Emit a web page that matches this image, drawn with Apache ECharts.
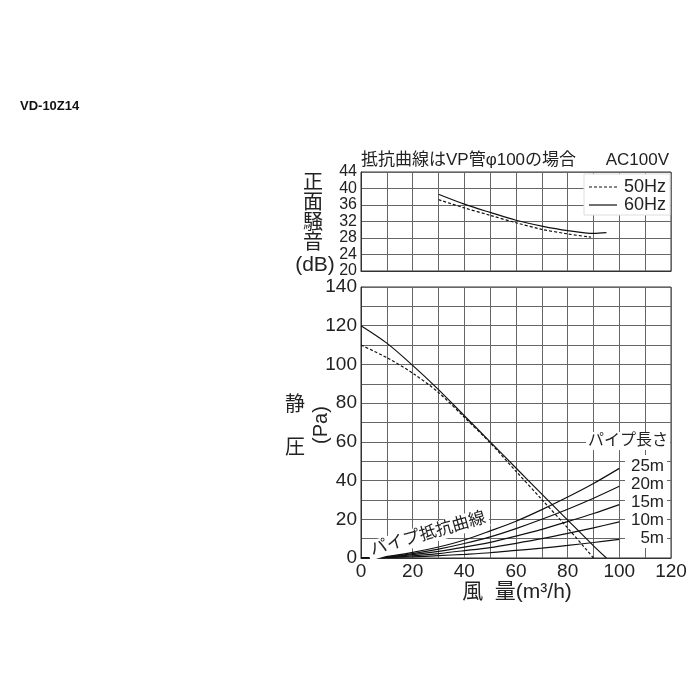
<!DOCTYPE html>
<html><head><meta charset="utf-8">
<script src="https://cdn.jsdelivr.net/npm/echarts@6/dist/echarts.min.js"></script>
<style>html,body{margin:0;padding:0;background:#fff}#c{width:700px;height:700px}</style>
</head><body><div id="c"></div>
<script>
// ---- data ----
const noiseX50 = [30, 40, 50, 60, 70, 80, 89];
const noise50  = [37.3, 35.3, 33.5, 31.7, 30.1, 29.0, 28.2];
const noiseX60 = [30, 40, 50, 60, 70, 80, 90, 95];
const noise60  = [38.6, 36.2, 34.2, 32.3, 30.9, 29.8, 29.1, 29.3];

const pqX50 = [0, 10, 20, 30, 40, 50, 60, 70, 80, 90];
const pq50  = [110, 103.5, 95.5, 85.5, 72.7, 59.5, 44.8, 30.2, 15.5, 0];
const pqX60 = [0, 10, 20, 30, 40, 50, 60, 70, 80, 90, 95];
const pq60  = [120, 111, 99.5, 87, 73.5, 60, 46.5, 33, 19.6, 6.3, 0];

const pipeX = [0, 10, 20, 30, 40, 50, 60, 70, 80, 90, 100];
const pipe25 = [0, 0.8, 2.9, 5.7, 9.3, 14, 19, 25, 31.5, 38.5, 46.3];
const pipe20 = [0, 0.6, 2.3, 4.6, 7.5, 10.9, 15.2, 20, 25.2, 30.9, 37.1];
const pipe15 = [0, 0.5, 1.7, 3.4, 5.6, 8.1, 11.3, 14.8, 18.8, 23, 27.6];
const pipe10 = [0, 0.3, 1.1, 2.3, 3.8, 5.4, 7.6, 10, 12.7, 15.6, 18.7];
const pipe5  = [0, 0.2, 0.6, 1.2, 1.9, 2.7, 3.9, 5.1, 6.5, 8, 9.6];
const pipeLabels = ['25m', '20m', '15m', '10m', '5m'];
const legendNames = ['50Hz', '60Hz'];

const FONT = "'Liberation Sans','Noto Sans CJK JP',sans-serif";
const zip = (xs, ys) => xs.map((x, i) => [x, ys[i]]);

const chart = echarts.init(document.getElementById('c'));
const gridLine = { show: true, lineStyle: { color: '#666', width: 1 } };
const axisLine = { show: true, lineStyle: { color: '#333', width: 1 } };

function lineSeries(name, xi, yi, data, dashed) {
  return {
    name, type: 'line', xAxisIndex: xi, yAxisIndex: yi, data,
    symbol: 'none', showSymbol: false, smooth: 0.3, animation: false,
    lineStyle: { color: '#111', width: 1.2, type: dashed ? [3, 2] : 'solid' }
  };
}

const pipes = [pipe25, pipe20, pipe15, pipe10, pipe5];

const option = {
  animation: false,
  grid: [
    { left: 361, top: 172, width: 310, height: 99, show: true, borderColor: '#333', borderWidth: 1 },
    { left: 361, top: 287, width: 310, height: 271, show: true, borderColor: '#333', borderWidth: 1 }
  ],
  xAxis: [
    { gridIndex: 0, type: 'value', min: 0, max: 120, interval: 10,
      axisLabel: { show: false }, axisTick: { show: false }, axisLine, splitLine: gridLine },
    { gridIndex: 1, type: 'value', min: 0, max: 120, interval: 10,
      axisTick: { show: false }, axisLine, splitLine: gridLine,
      axisLabel: { margin: 4, fontSize: 19, color: '#222', fontFamily: FONT,
        showMinLabel: true, showMaxLabel: true, hideOverlap: false,
        formatter: v => (v % 20 === 0 ? String(v) : '') } }
  ],
  yAxis: [
    { gridIndex: 0, type: 'value', min: 20, max: 44, interval: 4,
      axisTick: { show: false }, axisLine, splitLine: gridLine,
      axisLabel: { margin: 4, fontSize: 16, lineHeight: 14, color: '#222', fontFamily: FONT,
        showMinLabel: true, showMaxLabel: true, hideOverlap: false } },
    { gridIndex: 1, type: 'value', min: 0, max: 140, interval: 10,
      axisTick: { show: false }, axisLine, splitLine: gridLine,
      axisLabel: { margin: 4, fontSize: 19, color: '#222', fontFamily: FONT,
        showMinLabel: true, showMaxLabel: true, hideOverlap: false,
        formatter: v => (v % 20 === 0 ? String(v) : '') } }
  ],
  series: [
    lineSeries(legendNames[0], 0, 0, zip(noiseX50, noise50), true),
    lineSeries(legendNames[1], 0, 0, zip(noiseX60, noise60), false),
    lineSeries('pq50', 1, 1, zip(pqX50, pq50), true),
    lineSeries('pq60', 1, 1, zip(pqX60, pq60), false),
    ...pipes.map((p, i) => lineSeries(pipeLabels[i], 1, 1, zip(pipeX, p), false))
  ],
  graphic: [
    { type: 'text', left: 20, top: 100, style: { text: 'VD-10Z14', font: "bold 13px 'Liberation Sans',sans-serif", fill: '#111' } },
    { type: 'text', x: 361, y: 160, style: { text: '抵抗曲線はVP管φ100の場合', font: '17px ' + FONT, fill: '#222', textAlign: 'left', textVerticalAlign: 'middle' } },
    { type: 'text', x: 669, y: 160, style: { text: 'AC100V', font: '17px ' + FONT, fill: '#222', textAlign: 'right', textVerticalAlign: 'middle' } },
    { type: 'text', x: 313, y: 213, style: { text: '正\n面\n騒\n音', font: '20px ' + FONT, lineHeight: 20, fill: '#222', textAlign: 'center', textVerticalAlign: 'middle' } },
    { type: 'text', x: 315, y: 265, style: { text: '(dB)', font: '21px ' + FONT, fill: '#222', textAlign: 'center', textVerticalAlign: 'middle' } },
    // legend (manual)
    { type: 'rect', shape: { x: 584, y: 174, width: 86, height: 41 }, style: { fill: '#fff', stroke: '#ddd', lineWidth: 1 }, z: 10 },
    { type: 'line', shape: { x1: 589, y1: 187, x2: 617, y2: 187 }, style: { stroke: '#111', lineWidth: 1.2, lineDash: [3, 2] }, z: 11 },
    { type: 'line', shape: { x1: 589, y1: 205, x2: 617, y2: 205 }, style: { stroke: '#111', lineWidth: 1.2 }, z: 11 },
    { type: 'text', x: 666, y: 187, z: 11, style: { text: legendNames[0], font: '18px ' + FONT, fill: '#222', textAlign: 'right', textVerticalAlign: 'middle' } },
    { type: 'text', x: 666, y: 205, z: 11, style: { text: legendNames[1], font: '18px ' + FONT, fill: '#222', textAlign: 'right', textVerticalAlign: 'middle' } },
    { type: 'text', x: 295, y: 405, style: { text: '静', font: '20px ' + FONT, fill: '#222', textAlign: 'center', textVerticalAlign: 'middle' } },
    { type: 'text', x: 295, y: 448, style: { text: '圧', font: '20px ' + FONT, fill: '#222', textAlign: 'center', textVerticalAlign: 'middle' } },
    { type: 'text', x: 321, y: 425, rotation: Math.PI / 2, style: { text: '(Pa)', font: '20px ' + FONT, fill: '#222', textAlign: 'center', textVerticalAlign: 'middle' } },
    { type: 'text', x: 517, y: 592, style: { text: '風  量(m³/h)', font: '21px ' + FONT, fill: '#222', textAlign: 'center', textVerticalAlign: 'middle' } },
    { type: 'text', x: 628, y: 441, z: 11, style: { text: 'パイプ長さ', font: '16px ' + FONT, fill: '#222', textAlign: 'center', textVerticalAlign: 'middle', backgroundColor: '#fff', padding: [1, 2] } },
    { type: 'rect', shape: { x: 625, y: 455, width: 42, height: 93 }, style: { fill: '#fff' }, z: 10 },
    ...pipeLabels.map((t, i) => ({ type: 'text', x: 664, y: 466 + i * 18.2, z: 11,
      style: { text: t, font: '17px ' + FONT, fill: '#222', textAlign: 'right', textVerticalAlign: 'middle' } })),
    { type: 'text', x: 428, y: 534, rotation: 0.28, z: 11, style: { text: 'パイプ抵抗曲線', font: '17px ' + FONT, fill: '#222', textAlign: 'center', textVerticalAlign: 'middle', backgroundColor: '#fff', padding: [1, 3] } }
  ]
};
chart.setOption(option);
</script></body></html>
